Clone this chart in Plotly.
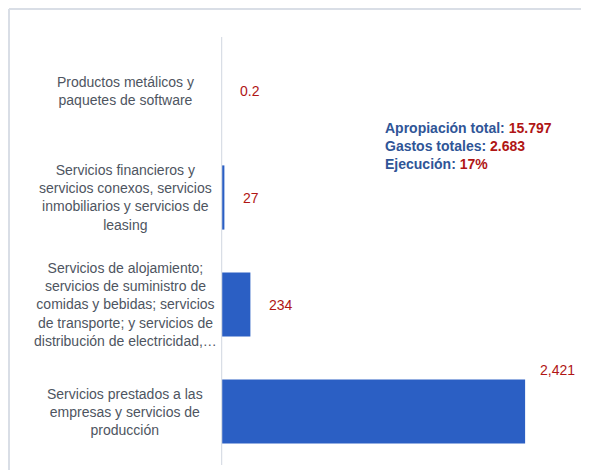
import plotly.graph_objects as go

categories = [
    "Productos metálicos y<br>paquetes de software",
    "Servicios financieros y<br>servicios conexos, servicios<br>inmobiliarios y servicios de<br>leasing",
    "Servicios de alojamiento;<br>servicios de suministro de<br>comidas y bebidas; servicios<br>de transporte; y servicios de<br>distribución de electricidad,…",
    "Servicios prestados a las<br>empresas y servicios de<br>producción",
]
values = [0.2, 27, 234, 2421]
value_labels = ["0.2", "27", "234", "2,421"]

# page body has an 8px margin, so figure coords = screen coords - 8
W, H = 589, 470
ML, MR, MT, MB = 213, 17, 29, 13
plot_w = W - ML - MR
plot_h = H - MT - MB
x_max = 2858

BLUE_TXT = "#2F5597"
RED = "#B01515"
GRAY_TXT = "#4E5561"
LINE = "#D9DEE6"

fig = go.Figure()
fig.add_trace(go.Bar(
    y=categories, x=values, orientation="h",
    marker=dict(color="#2B5FC4", line=dict(width=0)),
    hoverinfo="skip",
))

annotations = []
for i, (c, v, lab) in enumerate(zip(categories, values, value_labels)):
    last = i == len(values) - 1
    annotations.append(dict(
        x=v, y=c, xref="x", yref="y", text=lab, showarrow=False,
        xanchor="left", yanchor="middle",
        xshift=13 if last else 17, yshift=42 if last else 0,
        font=dict(family="Liberation Sans, Arial", size=14, color=RED),
    ))
    annotations.append(dict(
        x=0, y=c, xref="x", yref="y", text=c, showarrow=False,
        xanchor="center", yanchor="middle", align="center", xshift=-96,
        font=dict(family="Liberation Sans, Arial", size=14, color=GRAY_TXT),
    ))

summary = (
    f"<b><span style='color:{BLUE_TXT}'>Apropiación total: </span><span style='color:{RED}'>15.797</span></b><br>"
    f"<b><span style='color:{BLUE_TXT}'>Gastos totales: </span><span style='color:{RED}'>2.683</span></b><br>"
    f"<b><span style='color:{BLUE_TXT}'>Ejecución: </span><span style='color:{RED}'>17%</span></b>"
)
annotations.append(dict(
    x=(375 - ML) / plot_w, y=1 - (110 - MT) / plot_h, xref="paper", yref="paper",
    text=summary, showarrow=False, xanchor="left", yanchor="top", align="left",
    font=dict(family="Liberation Sans, Arial", size=14),
))

# outer chart border (light gray) and category axis line on top of bars
x_border = (1 - ML) / plot_w
y_top = 1 + (MT - 1) / plot_h
shapes = [
    dict(type="line", xref="paper", yref="paper", x0=x_border, x1=2, y0=y_top, y1=y_top,
         line=dict(color=LINE, width=2)),
    dict(type="line", xref="paper", yref="paper", x0=x_border, x1=x_border, y0=-1, y1=y_top,
         line=dict(color=LINE, width=2)),
    dict(type="line", xref="x", yref="paper", x0=0, x1=0, y0=0, y1=1, layer="above",
         line=dict(color=LINE, width=2.5)),
]

fig.update_layout(
    width=W, height=H,
    margin=dict(l=ML, r=MR, t=MT, b=MB),
    paper_bgcolor="white", plot_bgcolor="white",
    showlegend=False, bargap=0.4,
    xaxis=dict(range=[0, x_max], visible=False, showgrid=False, zeroline=False, fixedrange=True),
    yaxis=dict(autorange="reversed", showticklabels=False, ticks="", showgrid=False,
               showline=False, zeroline=False),
    annotations=annotations, shapes=shapes,
)

fig.write_html("out.html")
